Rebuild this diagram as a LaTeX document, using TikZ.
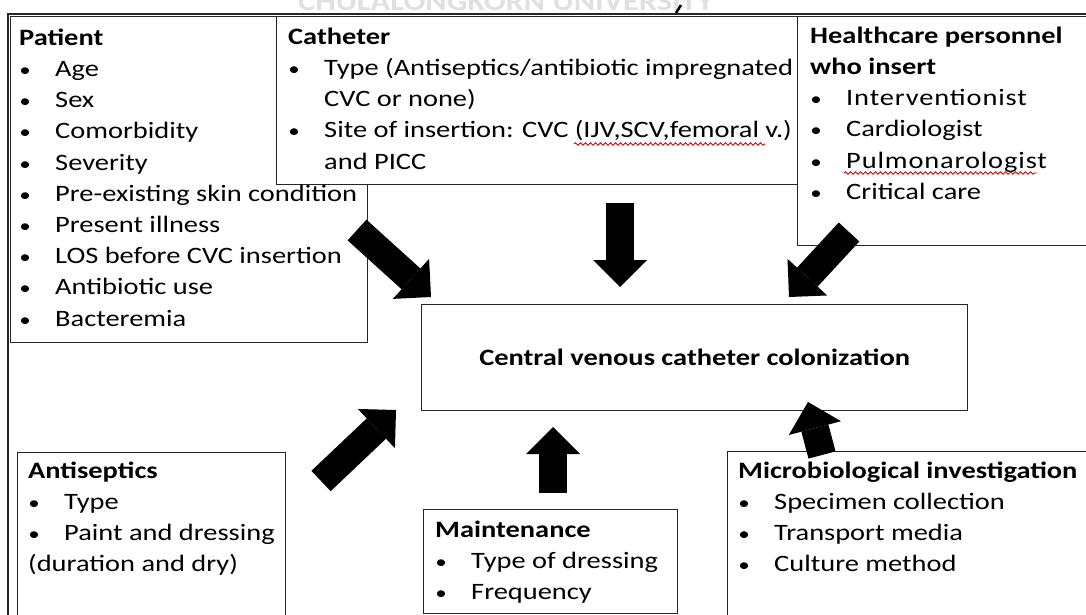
\documentclass[tikz,border=0pt]{standalone}
\usepackage{fontspec}
\setmainfont{Carlito}[FakeStretch=1.21]
\usetikzlibrary{arrows.meta,decorations.pathmorphing}
\newcommand{\itm}{\makebox[12pt][c]{\fontsize{19}{19}\selectfont\textbullet}\hspace*{24pt}}
\newcommand{\ind}{\hspace*{36pt}}
\newcommand{\fs}{\rule{0pt}{20pt}}
\newcommand{\wide}[1]{{\addfontfeature{LetterSpace=3.7}#1}}
\tikzset{
  frame/.style={draw=black!85, line width=1.3pt, fill=white, anchor=north west, inner sep=0pt},
  txt/.style={anchor=north west, inner sep=0pt, align=left, font=\fontsize{23.5}{31.2}\selectfont, text=black},
  blockarrow/.style={line width=28pt, -{Triangle[length=27pt,width=54pt,line width=0pt]}, black},
  squiggle/.style={red!85!black, line width=0.9pt, decorate, decoration={snake, amplitude=1.2pt, segment length=5pt}}
}
\begin{document}
\begin{tikzpicture}[x=1pt,y=-1pt]
\useasboundingbox (0,0) rectangle (1086,615);
% cut-off watermark and mark at the top (cut by the page edge as in the reference)
\node[anchor=base west, inner sep=0pt, font=\fontsize{26.8}{30}\selectfont\bfseries, text=black!12] (wm) at (298,11) {CHULALONGKORN UNIVERSITY};
\coordinate (m1) at (676,13); \coordinate (m2) at (681,5);
\draw[black, line width=2.5pt] (m1) -- (m2);
% outer frame
\draw[black!85, line width=1.3pt] (1100,14) -- (8,14) -- (8,640);
% boxes
\node[frame, minimum width=357pt, minimum height=326pt] (patient) at (10,16) {};
\node[frame, minimum width=521pt, minimum height=168pt] (catheter) at (276,16) {};
\node[frame, minimum width=303pt, minimum height=229pt] (staff) at (797,16) {};
\node[frame, minimum width=546pt, minimum height=106pt, font=\fontsize{23.5}{31.2}\selectfont\bfseries] (central) at (421,304) {Central venous catheter colonization};
\node[frame, minimum width=268pt, minimum height=190pt] (antiseptic) at (17,452) {};
\node[frame, minimum width=254pt, minimum height=104pt] (maint) at (423,509) {};
\node[frame, minimum width=373pt, minimum height=190pt] (micro) at (727,451) {};
% texts
\node[txt] (tpatient) at (19,25) {\fs\textbf{Patient}\\ \itm Age\\ \itm Sex\\ \itm Comorbidity\\ \itm Severity\\ \itm Pre-existing skin condition\\ \itm Present illness\\ \itm LOS before CVC insertion\\ \itm Antibiotic use\\ \itm Bacteremia};
\node[txt] (tcatheter) at (288,24) {\fs\textbf{Catheter}\\ \itm Type (Antiseptics/antibiotic impregnated\\ \ind CVC or none)\\ \itm Site of insertion: CVC (IJV,SCV,femoral v.)\\ \ind and PICC};
\node[txt] (tstaff) at (810,23) {\fs\textbf{Healthcare personnel}\\ \textbf{who insert}\\ \itm \wide{Interventionist}\\ \itm Cardiologist\\ \itm \wide{Pulmonarologist}\\ \itm Critical care};
\node[txt] (tantiseptic) at (28,458) {\fs\textbf{Antiseptics}\\ \itm Type\\ \itm Paint and dressing\\ (duration and dry)};
\node[txt] (tmaint) at (435,517) {\fs\textbf{Maintenance}\\ \itm Type of dressing\\ \itm Frequency};
\node[txt] (tmicro) at (738,458) {\fs\textbf{Microbiological investigation}\\ \itm Specimen collection\\ \itm Transport media\\ \itm Culture method};
% spell-check underlines
\coordinate (u1s) at (574,144); \coordinate (u1e) at (765,144);
\coordinate (u2s) at (844,173); \coordinate (u2e) at (1037,173);
\draw[squiggle] (u1s) -- (u1e);
\draw[squiggle] (u2s) -- (u2e);
% arrows
\coordinate (a1s) at (357,230); \coordinate (a1e) at (431,297);
\coordinate (a2s) at (620,203); \coordinate (a2e) at (620,287);
\coordinate (a3s) at (849,232); \coordinate (a3e) at (789,297);
\coordinate (a4s) at (321,481); \coordinate (a4e) at (396,410);
\coordinate (a5s) at (553,493); \coordinate (a5e) at (553,427);
\coordinate (a6s) at (822,455); \coordinate (a6e) at (808,402);
\draw[blockarrow] (a1s) -- (a1e);
\draw[blockarrow] (a2s) -- (a2e);
\draw[blockarrow] (a3s) -- (a3e);
\draw[blockarrow] (a4s) -- (a4e);
\draw[blockarrow] (a5s) -- (a5e);
\draw[blockarrow] (a6s) -- (a6e);
\end{tikzpicture}
\end{document}
